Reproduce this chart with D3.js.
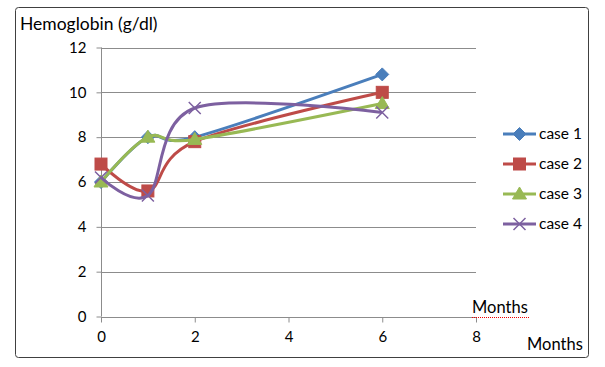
<!DOCTYPE html>
<html><head><meta charset="utf-8">
<script src="https://cdn.jsdelivr.net/npm/d3@7"></script>
<style>body{margin:0;background:#fff;} text{font-family:Lato,"Open Sans",sans-serif;fill:#000;}</style>
</head><body>
<svg id="c" width="605" height="367"></svg>
<script>
const months = [0, 1, 2, 6];
const case1 = [6.0, 8.0, 8.0, 10.8];
const case2 = [6.8, 5.6, 7.8, 10.0];
const case3 = [6.0, 8.0, 7.9, 9.5];
const case4 = [6.2, 5.4, 9.3, 9.1];
const seriesNames = ["case 1", "case 2", "case 3", "case 4"];
const colors = ["#4A7EBB", "#BE4B48", "#98B954", "#7D60A0"];
const markers = ["diamond", "square", "triangle", "x"];
const yTicks = [0, 2, 4, 6, 8, 10, 12];
const xTicks = [0, 2, 4, 6, 8];

const svg = d3.select("#c");
svg.append("rect").attr("x", 15.5).attr("y", 7.5).attr("width", 573).attr("height", 350)
  .attr("rx", 3).attr("fill", "#fff").attr("stroke", "#404040").attr("stroke-width", 1);

const x = d3.scaleLinear().domain([0, 8]).range([101, 476]);
const y = d3.scaleLinear().domain([0, 12]).range([316.5, 47.5]);

svg.append("g").selectAll("line").data(yTicks.filter(d => d > 0)).join("line")
  .attr("x1", x(0)).attr("x2", x(8)).attr("y1", d => Math.round(y(d)) + 0.5).attr("y2", d => Math.round(y(d)) + 0.5)
  .attr("stroke", "#8c8c8c").attr("stroke-width", 1);

const yAxis = d3.axisLeft(y).tickValues(yTicks).tickSize(5).tickPadding(10);
const gy = svg.append("g").attr("transform", `translate(${x(0) + 0.5},0)`).call(yAxis);
const xAxis = d3.axisBottom(x).tickValues(xTicks).tickSize(5).tickPadding(9);
const gx = svg.append("g").attr("transform", `translate(0,${Math.round(y(0)) + 0.5})`).call(xAxis);
[gy, gx].forEach(g => {
  g.select(".domain").attr("stroke", "#8c8c8c");
  g.selectAll(".tick line").attr("stroke", "#8c8c8c");
  g.selectAll(".tick text").attr("font-size", 15).attr("font-family", "Lato,sans-serif").attr("fill", "#000");
});
gx.select(".domain").attr("d", `M${x(0)},0H${x(8)}`);
gy.select(".domain").attr("d", `M0,${y(12)}V${y(0)}`);

const all = [case1, case2, case3, case4];
const line = d3.line().x(d => x(d[0])).y(d => y(d[1])).curve(d3.curveCardinal.tension(0));

function marker(g, type, cx, cy, color) {
  if (type === "diamond") {
    g.append("path").attr("d", `M${cx},${cy-6.5}L${cx+6.5},${cy}L${cx},${cy+6.5}L${cx-6.5},${cy}Z`).attr("fill", color).attr("stroke", color);
  } else if (type === "square") {
    g.append("rect").attr("x", cx-6).attr("y", cy-6).attr("width", 12).attr("height", 12).attr("fill", color).attr("stroke", color);
  } else if (type === "triangle") {
    g.append("path").attr("d", `M${cx},${cy-7}L${cx+7},${cy+5}L${cx-7},${cy+5}Z`).attr("fill", color).attr("stroke", color);
  } else {
    g.append("path").attr("d", `M${cx-6},${cy-6}L${cx+6},${cy+6}M${cx+6},${cy-6}L${cx-6},${cy+6}`).attr("stroke", color).attr("stroke-width", 1.5).attr("fill", "none");
  }
}

all.forEach((vals, i) => {
  const pts = months.map((m, j) => [m, vals[j]]);
  const g = svg.append("g");
  g.append("path").attr("d", line(pts)).attr("fill", "none").attr("stroke", colors[i]).attr("stroke-width", 3);
  pts.forEach(p => marker(g, markers[i], x(p[0]), y(p[1]), colors[i]));
});

seriesNames.forEach((n, i) => {
  const ly = 134 + i * 30;
  const g = svg.append("g");
  g.append("line").attr("x1", 503).attr("x2", 536).attr("y1", ly).attr("y2", ly).attr("stroke", colors[i]).attr("stroke-width", 3);
  marker(g, markers[i], 519.5, ly, colors[i]);
  g.append("text").attr("x", 539).attr("y", ly + 5).attr("font-size", 15.5).text(n);
});

svg.append("text").attr("x", 20).attr("y", 30).attr("font-size", 17.5).text("Hemoglobin (g/dl)");
svg.append("text").attr("x", 472).attr("y", 313).attr("font-size", 16.5).text("Months");
svg.append("line").attr("x1", 472).attr("x2", 529).attr("y1", 317.5).attr("y2", 317.5)
  .attr("stroke", "#e00").attr("stroke-width", 1).attr("stroke-dasharray", "1,1");
svg.append("text").attr("x", 527).attr("y", 350).attr("font-size", 16.5).text("Months");
</script>
</body></html>
